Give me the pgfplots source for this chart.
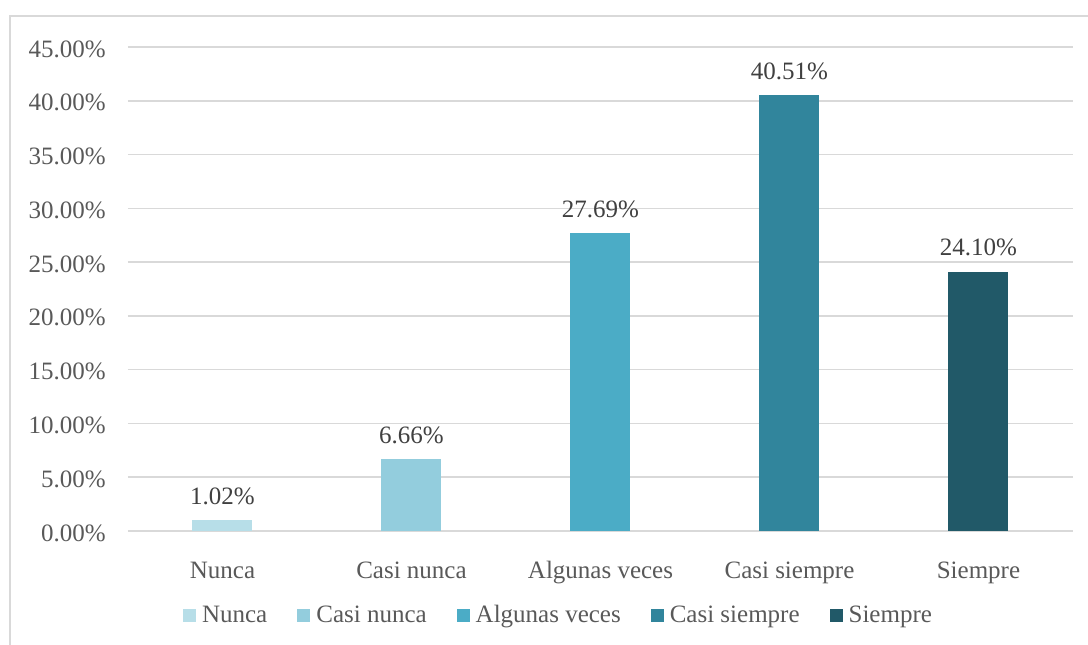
\documentclass[border=0pt]{standalone}
\usepackage{fontspec}
\setmainfont{Liberation Serif}
\usepackage{pgfplots}
\pgfplotsset{compat=1.18}
\definecolor{gridgray}{HTML}{D9D9D9}
\definecolor{txtgray}{HTML}{595959}
\definecolor{lblgray}{HTML}{404040}
\definecolor{cNunca}{HTML}{B7DEE8}
\definecolor{cCasiNunca}{HTML}{93CDDD}
\definecolor{cAlgunas}{HTML}{4BACC6}
\definecolor{cCasiSiempre}{HTML}{31859C}
\definecolor{cSiempre}{HTML}{215968}
\begin{document}
\begin{tikzpicture}[x=0.5pt,y=0.5pt]
\useasboundingbox (0,0) rectangle (1088,644);
\draw[gridgray, line width=0.9pt] (10,-5) -- (10,628) -- (1093,628);
\begin{axis}[
  at={(64pt,56.5pt)}, anchor=south west,
  scale only axis, width=472.5pt, height=242pt,
  xmin=-0.5, xmax=4.5, ymin=0, ymax=45,
  ybar, bar width=30pt, bar shift=0pt,
  axis line style={draw=none},
  ymajorgrids, major grid style={gridgray, line width=0.75pt},
  tick style={draw=none},
  xtick={0,1,2,3,4},
  xticklabels={Nunca, Casi nunca, Algunas veces, Casi siempre, Siempre},
  ytick={0,5,...,45},
  font=\fontsize{12.5}{15}\selectfont,
  /pgf/number format/assume math mode=true,
  yticklabel={\pgfmathprintnumber[fixed,fixed zerofill,precision=2]{\tick}\%},
  yticklabel style={anchor=base east, xshift=-11pt, yshift=-5pt, inner sep=0pt, text=txtgray},
  xticklabel style={anchor=base, yshift=-19.5pt, inner sep=0pt, text=txtgray},
  nodes near coords={\pgfmathprintnumber[fixed,fixed zerofill,precision=2]{\pgfplotspointmeta}\%},
  every node near coord/.append style={anchor=base, yshift=8pt, inner sep=0pt, text=lblgray},
  legend columns=-1,
  legend style={at={(0.4577,-0.175)}, anchor=center, draw=none, fill=none,
    text=txtgray, font=\fontsize{12.5}{15}\selectfont,
    /tikz/every even column/.append style={column sep=12pt},
    nodes={inner xsep=3pt}},
  legend image code/.code={\fill[#1] (0pt,-3.2pt) rectangle (6.5pt,3.3pt);},
]
\addplot[fill=cNunca, draw=none] coordinates {(0,1.02)};
\addplot[fill=cCasiNunca, draw=none] coordinates {(1,6.66)};
\addplot[fill=cAlgunas, draw=none] coordinates {(2,27.69)};
\addplot[fill=cCasiSiempre, draw=none] coordinates {(3,40.51)};
\addplot[fill=cSiempre, draw=none] coordinates {(4,24.10)};
\legend{Nunca, Casi nunca, Algunas veces, Casi siempre, Siempre}
\end{axis}
\end{tikzpicture}
\end{document}
